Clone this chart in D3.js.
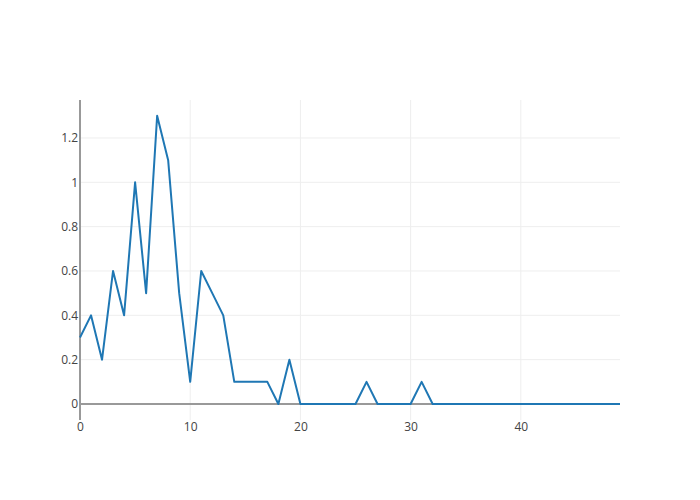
<!DOCTYPE html>
<html>
<head>
<meta charset="utf-8">
<script src="https://cdn.jsdelivr.net/npm/d3@7"></script>
<style>
  body { margin: 0; background: #fff; }
  text { font-family: "Open Sans", sans-serif; font-size: 12px; fill: #444; }
</style>
</head>
<body>
<div id="chart"></div>
<script>
// values, x = 0..49
var yValues = [0.3, 0.4, 0.2, 0.6, 0.4, 1.0, 0.5, 1.3, 1.1, 0.5,
               0.1, 0.6, 0.5, 0.4, 0.1, 0.1, 0.1, 0.1, 0, 0.2,
               0, 0, 0, 0, 0, 0, 0.1, 0, 0, 0,
               0, 0.1, 0, 0, 0, 0, 0, 0, 0, 0,
               0, 0, 0, 0, 0, 0, 0, 0, 0, 0];
var xTicks = [0, 10, 20, 30, 40];
var yTicks = [0, 0.2, 0.4, 0.6, 0.8, 1, 1.2];

var margin = { top: 100, right: 80, bottom: 80, left: 80 },
    width = 700 - margin.left - margin.right,
    height = 500 - margin.top - margin.bottom;

var data = yValues.map(function (v, i) { return { x: i, y: v }; });

var x = d3.scaleLinear().domain([0, yValues.length - 1]).range([0, width]);
var y = d3.scaleLinear().domain([-0.0722, 1.3714]).range([height, 0]);

var svg = d3.select("#chart").append("svg")
    .attr("width", 700)
    .attr("height", 500)
    .append("g")
    .attr("transform", "translate(" + margin.left + "," + margin.top + ")");

// grid
svg.append("g").selectAll("line.gx")
    .data(xTicks.filter(function (d) { return d !== 0; }))
    .enter().append("line")
    .attr("x1", x).attr("x2", x)
    .attr("y1", 0).attr("y2", height)
    .attr("stroke", "#eee").attr("stroke-width", 1);
svg.append("g").selectAll("line.gy")
    .data(yTicks.filter(function (d) { return d !== 0; }))
    .enter().append("line")
    .attr("x1", 0).attr("x2", width)
    .attr("y1", y).attr("y2", y)
    .attr("stroke", "#eee").attr("stroke-width", 1);

// zero line
svg.append("line")
    .attr("x1", 0).attr("x2", width)
    .attr("y1", y(0)).attr("y2", y(0))
    .attr("stroke", "#999").attr("stroke-width", 2);

// axes
var xAxis = d3.axisBottom(x).tickValues(xTicks).tickSize(0).tickPadding(18);
var yAxis = d3.axisLeft(y).tickValues(yTicks).tickSize(0).tickPadding(0)
    .tickFormat(function (d) { return d3.format("")(d); });

svg.append("g")
    .attr("transform", "translate(0," + (height - 16) + ")")
    .call(xAxis)
    .call(function (g) { g.select(".domain").remove(); })
    .selectAll("text").style("font-size", "12px").style("fill", "#444");

var gy = svg.append("g").call(yAxis);
gy.select(".domain").remove();
gy.selectAll("text").attr("x", -2).style("font-size", "12px").style("fill", "#444");

svg.append("line")
    .attr("x1", 0).attr("x2", 0)
    .attr("y1", 0).attr("y2", height)
    .attr("stroke", "#999").attr("stroke-width", 2);

// line
var line = d3.line()
    .x(function (d) { return x(d.x); })
    .y(function (d) { return y(d.y); });

svg.append("path")
    .datum(data)
    .attr("d", line)
    .attr("fill", "none")
    .attr("stroke", "#1f77b4")
    .attr("stroke-width", 2)
    .attr("stroke-linejoin", "round");
</script>
</body>
</html>
